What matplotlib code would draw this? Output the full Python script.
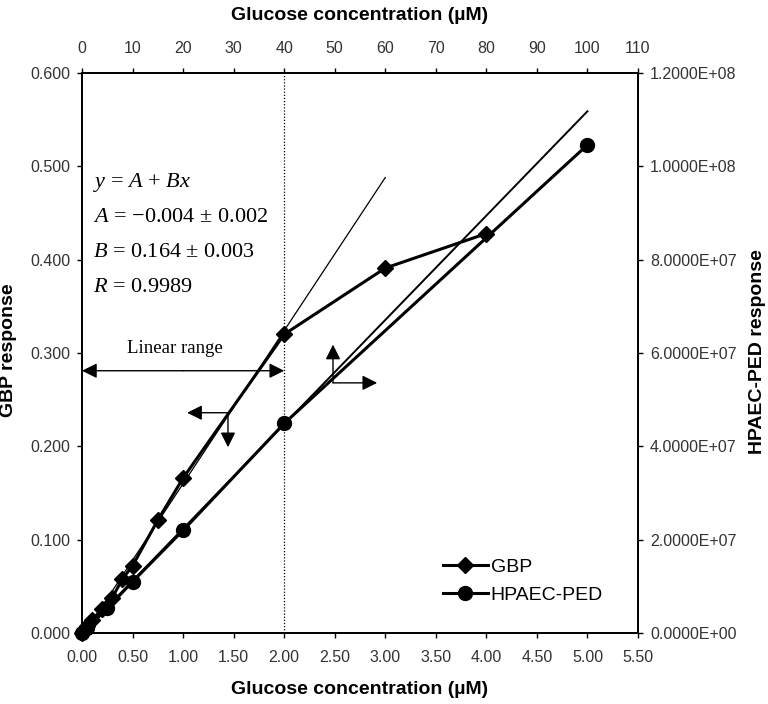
import matplotlib
matplotlib.use("Agg")
import matplotlib.pyplot as plt
from matplotlib.ticker import FuncFormatter, MultipleLocator

# GBP response (left axis) vs glucose concentration (uM, bottom axis)
gbp_conc = [0.0, 0.025, 0.05, 0.1, 0.2, 0.3, 0.4, 0.5, 0.75, 1.0, 2.0, 3.0, 4.0]
gbp_resp = [0.000, 0.004, 0.007, 0.014, 0.026, 0.038, 0.058, 0.072, 0.121, 0.166, 0.320, 0.391, 0.428]

# HPAEC-PED response (right axis)
hpaec_conc = [0.0, 0.05, 0.25, 0.5, 1.0, 2.0, 5.0]
hpaec_resp = [0.0, 1.0e6, 5.3e6, 1.1e7, 2.2e7, 4.49e7, 1.046e8]

# fitted lines (end points)
gbp_fit_x = [0.0, 3.0]
gbp_fit_y = [-0.004, 0.488]
hpaec_fit_x = [0.0, 5.0]
hpaec_fit_y = [0.0, 1.118e8]

eq_lines = [r"$\mathit{y}$ = $\mathit{A}$ + $\mathit{Bx}$",
            r"$\mathit{A}$ = $-$0.004 $\pm$ 0.002",
            r"$\mathit{B}$ = 0.164 $\pm$ 0.003",
            r"$\mathit{R}$ = 0.9989"]

plt.rcParams["font.family"] = "Liberation Sans"
plt.rcParams["mathtext.fontset"] = "custom"
plt.rcParams["mathtext.rm"] = "Liberation Serif"
plt.rcParams["mathtext.it"] = "Liberation Serif:italic"

fig = plt.figure(figsize=(7.68, 7.04), dpi=100)
ax = fig.add_axes([82 / 768, 1 - 633 / 704, 556 / 768, 560 / 704])
ax_r = ax.twinx()
ax_t = ax.twiny()

tick_kw = dict(direction="out", length=3.6, width=1, labelsize=11.5, colors="black", labelcolor="#333333")

# GBP data + fit on left axis
ax.plot(gbp_fit_x, gbp_fit_y, color="black", lw=0.9, zorder=2)
ax.plot(gbp_conc, gbp_resp, color="black", lw=2.2, marker="D", ms=8.5, zorder=3,
        clip_on=False, label="GBP")
ax.axvline(2.0, color="black", lw=0.9, ls=(0, (1, 1.5)), zorder=1)

# HPAEC-PED data + fit on right axis
ax_r.plot(hpaec_fit_x, hpaec_fit_y, color="black", lw=1.4, zorder=2)
ax_r.plot(hpaec_conc, hpaec_resp, color="black", lw=2.2, marker="o", ms=10, zorder=3,
          clip_on=False, label="HPAEC-PED")

ax.set_xlim(0, 5.5)
ax.set_ylim(0, 0.6)
ax.xaxis.set_major_locator(MultipleLocator(0.5))
ax.yaxis.set_major_locator(MultipleLocator(0.1))
ax.xaxis.set_major_formatter(FuncFormatter(lambda v, p: f"{v:.2f}"))
ax.yaxis.set_major_formatter(FuncFormatter(lambda v, p: f"{v:.3f}"))
ax.tick_params(axis="x", pad=8.5, **tick_kw)
ax.tick_params(axis="y", pad=5, **tick_kw)

ax_r.set_ylim(0, 1.2e8)
ax_r.yaxis.set_major_locator(MultipleLocator(2e7))
ax_r.yaxis.set_major_formatter(FuncFormatter(lambda v, p: f"{v:.4E}"))
ax_r.tick_params(axis="y", pad=5, **tick_kw)

ax_t.set_xlim(0, 110)
ax_t.xaxis.set_major_locator(MultipleLocator(10))
ax_t.tick_params(axis="x", pad=8.5, **tick_kw)

for a in (ax, ax_r, ax_t):
    for s in a.spines.values():
        s.set_linewidth(1.2)
        s.set_color("black")

# axis titles
lab_kw = dict(fontsize=14, fontweight="bold", ha="center", va="center")
fig.text(360 / 768, 1 - 690 / 704, "Glucose concentration (\u00b5M)", **lab_kw)
fig.text(360 / 768, 1 - 15 / 704, "Glucose concentration (\u00b5M)", **lab_kw)
fig.text(9 / 768, 1 - 350 / 704, "GBP response", rotation=90, **lab_kw)
fig.text(757 / 768, 1 - 352 / 704, "HPAEC-PED response", rotation=90, **lab_kw)

# fit equation
for i, line in enumerate(eq_lines):
    ax.text(0.02, 0.805 - i * 0.0625, line, transform=ax.transAxes, fontsize=16,
            family="Liberation Serif", ha="left", va="center")

# linear range annotation
ax.text(0.92, 0.305, "Linear range", fontsize=13.5, family="Liberation Serif", ha="center", va="center")
arr = dict(arrowstyle="-|>,head_length=0.6,head_width=0.3", mutation_scale=15,
           color="black", lw=1, shrinkA=0, shrinkB=0)
ax.annotate("", xy=(0.0, 0.281), xytext=(1.0, 0.281), arrowprops=arr)
ax.annotate("", xy=(2.0, 0.281), xytext=(1.0, 0.281), arrowprops=arr)

# axis pointers
ax.annotate("", xy=(1.04, 0.236), xytext=(1.444, 0.236), arrowprops=arr)
ax.annotate("", xy=(1.444, 0.199), xytext=(1.444, 0.236), arrowprops=arr)
ax.annotate("", xy=(2.483, 0.309), xytext=(2.483, 0.268), arrowprops=arr)
ax.annotate("", xy=(2.92, 0.268), xytext=(2.483, 0.268), arrowprops=arr)

h1, l1 = ax.get_legend_handles_labels()
h2, l2 = ax_r.get_legend_handles_labels()
fig.legend(h1 + h2, l1 + l2, loc="center left", bbox_to_anchor=(443 / 768, 1 - 581 / 704),
           frameon=False, fontsize=14, handlelength=2.3, handletextpad=0.15,
           labelspacing=0.55, borderpad=0, borderaxespad=0)

fig.savefig("out.png", dpi=100)
